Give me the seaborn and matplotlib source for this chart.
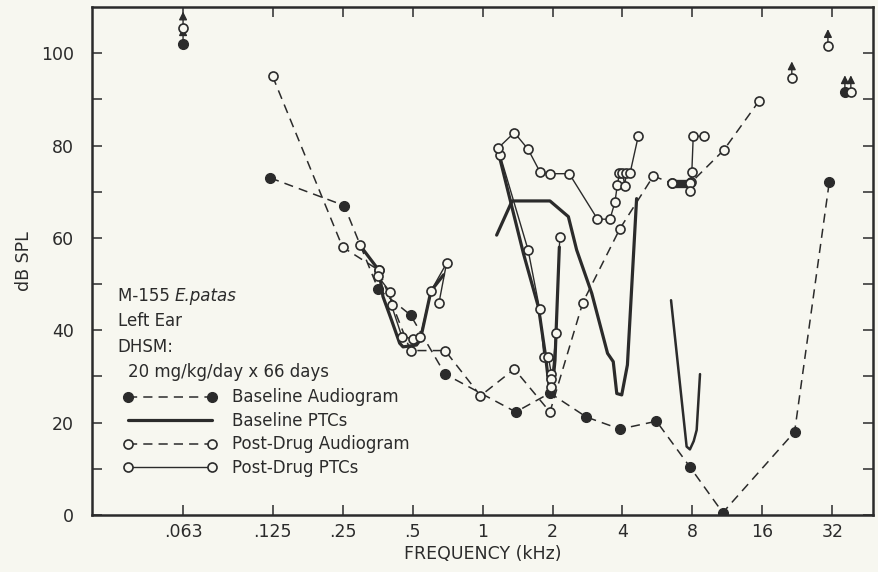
import seaborn as sns
import matplotlib.pyplot as plt
from matplotlib.lines import Line2D

# frequency in kHz, level in dB SPL
# the .063 column is drawn off the octave grid in the original, so it gets its own spot
pos_063 = 0.0515

tick_freqs = [pos_063, 0.125, 0.25, 0.5, 1, 2, 4, 8, 16, 32]
tick_labels = ['.063', '.125', '.25', '.5', '1', '2', '4', '8', '16', '32']

# baseline audiogram (filled, dashed)
base_aud_f = [0.122, 0.254, 0.355, 0.49, 0.69, 1.39, 1.95, 2.8, 3.9, 5.6, 7.8, 10.8, 22, 31]
base_aud_db = [73, 67, 49, 43.3, 30.5, 22.3, 26.4, 21.2, 18.6, 20.3, 10.4, 0.5, 18, 72]

# post-drug audiogram (open, dashed)
post_aud_f = [0.125, 0.25, 0.358, 0.49, 0.69, 0.98, 1.37, 1.95, 2.7, 3.9, 5.43, 6.55, 7.9, 10.9, 15.5]
post_aud_db = [95, 58, 53, 35.6, 35.6, 25.8, 31.6, 22.3, 46, 62, 73.4, 71.8, 72, 79, 89.7]

# no response at max output (drawn with an arrow)
base_lim_f = [pos_063, 36.2]
base_lim_db = [102, 91.6]
post_lim_f = [pos_063, 21.4, 30.6, 38.4]
post_lim_db = [105.4, 94.6, 101.6, 91.6]

# baseline PTCs (thick solid)
bptc_05_f = [0.297, 0.358, 0.373, 0.406, 0.44, 0.455, 0.52, 0.54, 0.60, 0.68]
bptc_05_db = [58.4, 53, 47.3, 42.2, 37.2, 36.4, 36.8, 37.9, 48.5, 52]
bptc_2k_f = [1.17, 1.50, 1.74, 1.86, 1.95, 1.98, 2.05, 2.14]
bptc_2k_db = [78.5, 56.6, 45, 35, 26.3, 25.5, 33.5, 58]
bptc_4k_f = [1.15, 1.34, 1.95, 2.34, 2.54, 2.95, 3.45, 3.65, 3.78, 3.97, 4.2, 4.6]
bptc_4k_db = [60.6, 68, 68, 64.6, 57.4, 48, 35, 33.2, 26.3, 26, 32.5, 68.5]
bptc_8k_f = [6.47, 7.55, 7.8, 8.1, 8.34, 8.62]
bptc_8k_db = [46.5, 14.8, 14.2, 16, 18.4, 30.5]

# post-drug PTCs (thin solid, open markers)
pptc_05_f = [0.297, 0.358, 0.355, 0.40, 0.406, 0.45, 0.50, 0.54, 0.60, 0.70, 0.65]
pptc_05_db = [58.4, 53, 51.7, 48.3, 45.4, 38.6, 38.2, 38.6, 48.5, 54.5, 46]
pptc_2k_f = [1.19, 1.57, 1.76, 1.84, 1.92, 1.98, 1.97, 1.98, 2.07, 2.15]
pptc_2k_db = [77.9, 57.4, 44.6, 34.1, 34.1, 30.5, 29.4, 27.8, 39.5, 60.2]
pptc_4k_f = [1.17, 1.37, 1.57, 1.77, 1.96, 2.36, 3.12, 3.53, 3.71, 3.8, 3.88, 4.0, 4.1, 4.14, 4.31, 4.68]
pptc_4k_db = [79.5, 82.8, 79.2, 74.2, 73.9, 73.9, 64.1, 64, 67.7, 71.4, 74, 74, 71.2, 74, 74, 82.1]
pptc_8k_f = [6.55, 7.8, 7.8, 7.95, 8.06, 8.96]
pptc_8k_db = [71.8, 71.8, 70.2, 74.3, 82, 82]
# dark smear along the bottom of the 8 kHz post-drug curve
smear_8k_f = [6.75, 7.7]
smear_8k_db = [71.6, 71.6]

legend_labels = ['Baseline Audiogram', 'Baseline PTCs', 'Post-Drug Audiogram', 'Post-Drug PTCs']

ink = '#2b2b2b'
paper = '#f7f7f0'

sns.set_theme(style='ticks')
plt.rcParams['font.family'] = ['DejaVu Sans']

fig, ax = plt.subplots(figsize=(8.79, 5.72), dpi=100)
fig.subplots_adjust(left=0.1047, right=0.9932, top=0.9878, bottom=0.0997)
fig.patch.set_facecolor(paper)
ax.set_facecolor(paper)
ax.set_xscale('log', base=2)

dash = (0, (6, 4))
open_kw = dict(marker='o', markersize=6.5, markerfacecolor=paper, markeredgecolor=ink, markeredgewidth=1.2)
fill_kw = dict(marker='o', markersize=7, markerfacecolor=ink, markeredgecolor=ink, markeredgewidth=1)

# baseline PTCs
for f, db in [(bptc_05_f, bptc_05_db), (bptc_2k_f, bptc_2k_db), (bptc_4k_f, bptc_4k_db)]:
    sns.lineplot(x=f, y=db, sort=False, estimator=None, color=ink, lw=2.3, ax=ax)
sns.lineplot(x=bptc_8k_f, y=bptc_8k_db, sort=False, estimator=None, color=ink, lw=1.8, ax=ax)
sns.lineplot(x=smear_8k_f, y=smear_8k_db, sort=False, estimator=None, color=ink, lw=6,
             solid_capstyle='butt', ax=ax)

# audiograms
sns.lineplot(x=base_aud_f, y=base_aud_db, sort=False, estimator=None, color=ink, lw=1.1,
             linestyle=dash, ax=ax, **fill_kw)
sns.lineplot(x=post_aud_f, y=post_aud_db, sort=False, estimator=None, color=ink, lw=1.1,
             linestyle=dash, ax=ax, **open_kw)

# post-drug PTCs
for f, db in [(pptc_05_f, pptc_05_db), (pptc_2k_f, pptc_2k_db), (pptc_4k_f, pptc_4k_db), (pptc_8k_f, pptc_8k_db)]:
    sns.lineplot(x=f, y=db, sort=False, estimator=None, color=ink, lw=1.0, ax=ax, **open_kw)

# limit points with up arrows
arrow = dict(arrowstyle='<|-,head_length=0.4,head_width=0.2', color=ink, lw=1.0, shrinkA=0, shrinkB=0)
for f, v in zip(base_lim_f + post_lim_f, base_lim_db + post_lim_db):
    ax.annotate('', xy=(f, v), xytext=(0, 12), textcoords='offset points', arrowprops=arrow)
sns.scatterplot(x=base_lim_f, y=base_lim_db, marker='o', s=49, color=ink, edgecolor=ink, linewidth=1, ax=ax, zorder=4)
sns.scatterplot(x=post_lim_f, y=post_lim_db, marker='o', s=42, color=paper, edgecolor=ink, linewidth=1.2, ax=ax, zorder=5)

# axes
ax.set_xlim(2 ** -5.58, 2 ** 5.58)
ax.set_ylim(0, 110)
ax.set_xticks(tick_freqs)
ax.set_xticklabels(tick_labels)
ax.xaxis.set_minor_locator(plt.NullLocator())
ax.set_yticks(range(0, 101, 20))
ax.set_yticks(range(10, 101, 20), minor=True)
ax.tick_params(which='both', direction='in', length=7, width=1.1, color=ink,
               top=True, right=True, labelsize=12.5, labelcolor=ink)
ax.tick_params(axis='y', pad=13)
ax.tick_params(axis='x', pad=6)
for s in ax.spines.values():
    s.set_linewidth(1.8)
    s.set_color(ink)
ax.set_xlabel('FREQUENCY (kHz)', fontsize=12.5, color=ink, labelpad=3)
ax.set_ylabel('dB SPL', fontsize=12.5, color=ink, labelpad=6)

# annotation block
t = ax.text(0.033, 0.431, 'M-155 ', transform=ax.transAxes, fontsize=12, color=ink, va='center')
ax.annotate('E.patas', xy=(1, 0), xycoords=t, va='bottom', fontsize=12, color=ink, style='italic')
ax.text(0.033, 0.382, 'Left Ear', transform=ax.transAxes, fontsize=12, color=ink, va='center')
ax.text(0.033, 0.331, 'DHSM:', transform=ax.transAxes, fontsize=12, color=ink, va='center')
ax.text(0.046, 0.281, '20 mg/kg/day x 66 days', transform=ax.transAxes, fontsize=12, color=ink, va='center')

handles = [
    Line2D([], [], color=ink, lw=1.1, ls=dash, **fill_kw),
    Line2D([], [], color=ink, lw=2.3),
    Line2D([], [], color=ink, lw=1.1, ls=dash, **open_kw),
    Line2D([], [], color=ink, lw=1.0, **open_kw),
]
ax.legend(handles, legend_labels, loc='upper left', bbox_to_anchor=(0.04, 0.249), frameon=False,
          numpoints=2, handlelength=5.6, handletextpad=0.9, labelspacing=0.33, borderpad=0,
          borderaxespad=0, fontsize=12, labelcolor=ink)

plt.savefig('out.png', dpi=100, facecolor=paper)
